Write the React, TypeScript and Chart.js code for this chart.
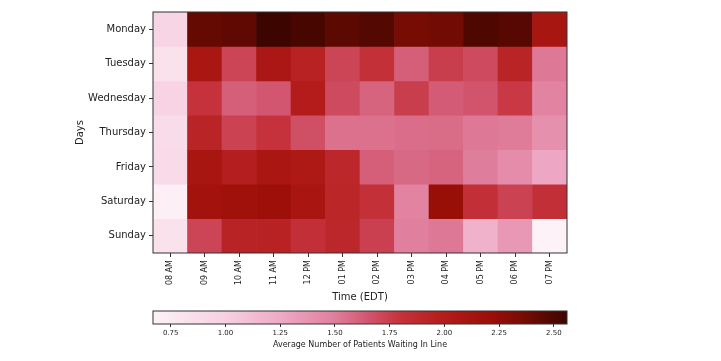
import React, { useEffect, useRef } from 'react';
import { Chart, registerables } from 'chart.js';

Chart.register(...registerables);

const days = ['Monday', 'Tuesday', 'Wednesday', 'Thursday', 'Friday', 'Saturday', 'Sunday'];
const hours = ['08 AM', '09 AM', '10 AM', '11 AM', '12 PM', '01 PM', '02 PM', '03 PM', '04 PM', '05 PM', '06 PM', '07 PM'];

const monday = [0.95, 2.42, 2.44, 2.56, 2.52, 2.45, 2.48, 2.36, 2.38, 2.5, 2.47, 2.1];
const tuesday = [0.82, 2.08, 1.72, 2.07, 1.95, 1.72, 1.82, 1.62, 1.75, 1.7, 1.93, 1.52];
const wednesday = [0.97, 1.8, 1.62, 1.65, 2.0, 1.7, 1.6, 1.75, 1.63, 1.66, 1.77, 1.47];
const thursday = [0.88, 1.93, 1.73, 1.8, 1.68, 1.55, 1.55, 1.56, 1.57, 1.52, 1.51, 1.4];
const friday = [0.9, 2.1, 1.98, 2.08, 2.05, 1.9, 1.62, 1.58, 1.6, 1.5, 1.42, 1.27];
const saturday = [0.7, 2.15, 2.17, 2.2, 2.09, 1.91, 1.82, 1.47, 2.22, 1.83, 1.73, 1.83];
const sunday = [0.82, 1.72, 1.94, 1.95, 1.83, 1.9, 1.74, 1.49, 1.52, 1.2, 1.35, 0.669];

const rows = [monday, tuesday, wednesday, thursday, friday, saturday, sunday];
const colorbarTicks = [0.75, 1.0, 1.25, 1.5, 1.75, 2.0, 2.25, 2.5];

// colormap anchors (fraction of range, colour)
const cmapStops: [number, string][] = [
  [0.0, '#fdf2f7'],
  [0.175, '#f6d0e1'],
  [0.307, '#eeaac6'],
  [0.44, '#df7e9c'],
  [0.519, '#d2566f'],
  [0.598, '#c5323b'],
  [0.704, '#b31c1b'],
  [0.81, '#9d0f08'],
  [0.889, '#7a0c04'],
  [1.0, '#3c0500'],
];

const allValues = rows.flat();
const vmin = Math.min(...allValues);
const vmax = Math.max(...allValues);

function hexToRgb(h: string) {
  const n = parseInt(h.slice(1), 16);
  return [(n >> 16) & 255, (n >> 8) & 255, n & 255];
}

function cmap(v: number) {
  let t = (v - vmin) / (vmax - vmin);
  t = Math.max(0, Math.min(1, t));
  for (let i = 0; i < cmapStops.length - 1; i++) {
    const [t0, c0] = cmapStops[i];
    const [t1, c1] = cmapStops[i + 1];
    if (t >= t0 && t <= t1) {
      const f = (t - t0) / (t1 - t0);
      const a = hexToRgb(c0);
      const b = hexToRgb(c1);
      const r = a.map((x, k) => Math.round(x + (b[k] - x) * f));
      return `rgb(${r[0]},${r[1]},${r[2]})`;
    }
  }
  return cmapStops[cmapStops.length - 1][1];
}

const FONT = 'DejaVu Sans';
const TEXT = '#222';
const SPINE = '#333';

const framePlugin = {
  id: 'frame',
  afterDraw(chart: any) {
    const { ctx, chartArea } = chart;
    ctx.save();
    ctx.strokeStyle = SPINE;
    ctx.lineWidth = 1;
    ctx.strokeRect(chartArea.left, chartArea.top, chartArea.right - chartArea.left, chartArea.bottom - chartArea.top);
    ctx.restore();
  },
};

export default function App() {
  const mainRef = useRef<HTMLCanvasElement>(null);
  const barRef = useRef<HTMLCanvasElement>(null);

  useEffect(() => {
    Chart.defaults.font.family = FONT;
    const main = new Chart(mainRef.current!, {
      type: 'bar',
      data: {
        labels: hours,
        datasets: days.map((d, i) => ({
          label: d,
          data: rows[i].map(() => [i - 0.5, i + 0.5]),
          backgroundColor: rows[i].map((v) => cmap(v)),
          borderWidth: 0,
          barPercentage: 1,
          categoryPercentage: 1,
          grouped: false,
        })),
      } as any,
      options: {
        responsive: false,
        animation: false,
        events: [],
        layout: { padding: { left: 70, top: 12, right: 154, bottom: 3 } },
        plugins: { legend: { display: false }, tooltip: { enabled: false } },
        scales: {
          x: {
            type: 'category',
            offset: true,
            ticks: { minRotation: 90, maxRotation: 90, autoSkip: false, padding: 3, color: TEXT, font: { size: 8, family: FONT } },
            grid: { drawOnChartArea: false, offset: false, tickLength: 4, color: SPINE },
            border: { display: false },
            title: { display: true, text: 'Time (EDT)', color: TEXT, font: { size: 10, family: FONT } },
            afterFit: (s: any) => { s.height = 54; },
          },
          y: {
            type: 'linear',
            min: -0.5,
            max: 6.5,
            reverse: true,
            afterBuildTicks: (s: any) => { s.ticks = days.map((_, i) => ({ value: i })); },
            ticks: { autoSkip: false, padding: 3, color: TEXT, font: { size: 10, family: FONT }, callback: (v: any) => days[v as number] },
            grid: { drawOnChartArea: false, tickLength: 4, color: SPINE },
            border: { display: false },
            title: { display: true, text: 'Days', color: TEXT, font: { size: 10, family: FONT } },
            afterFit: (s: any) => { s.width = 83; },
          },
        },
      } as any,
      plugins: [framePlugin],
    });

    const bar = new Chart(barRef.current!, {
      type: 'bar',
      data: {
        labels: ['cb'],
        datasets: [
          {
            data: [[vmin, vmax]],
            borderWidth: 0,
            barPercentage: 1,
            categoryPercentage: 1,
            backgroundColor: (c: any) => {
              const chart = c.chart;
              const sx = chart.scales.x;
              if (!chart.chartArea || !sx) return '#c00';
              const g = chart.ctx.createLinearGradient(sx.getPixelForValue(vmin), 0, sx.getPixelForValue(vmax), 0);
              cmapStops.forEach(([t, col]) => g.addColorStop(t, col));
              return g;
            },
          },
        ],
      } as any,
      options: {
        responsive: false,
        animation: false,
        events: [],
        indexAxis: 'y',
        layout: { padding: { left: 153, top: 11, right: 154, bottom: 7 } },
        plugins: { legend: { display: false }, tooltip: { enabled: false } },
        scales: {
          x: {
            type: 'linear',
            min: vmin,
            max: vmax,
            afterBuildTicks: (s: any) => { s.ticks = colorbarTicks.map((v) => ({ value: v })); },
            ticks: { padding: 2, color: TEXT, font: { size: 7, family: FONT }, callback: (v: any) => Number(v).toFixed(2) },
            grid: { drawOnChartArea: false, tickLength: 3, color: SPINE },
            border: { display: false },
            title: { display: true, text: 'Average Number of Patients Waiting In Line', color: TEXT, font: { size: 8, family: FONT }, padding: { top: 2, bottom: 4 } },
            afterFit: (s: any) => { s.height = 30; },
          },
          y: { display: false },
        },
      } as any,
      plugins: [framePlugin],
    });

    return () => {
      main.destroy();
      bar.destroy();
    };
  }, []);

  return (
    <div style={{ position: 'fixed', left: 0, top: 0, width: 721, height: 361, background: '#fff' }}>
      <canvas ref={mainRef} width={721} height={310} style={{ position: 'absolute', left: 0, top: 0, width: 721, height: 310 }} />
      <canvas ref={barRef} width={721} height={61} style={{ position: 'absolute', left: 0, top: 300, width: 721, height: 61 }} />
    </div>
  );
}
